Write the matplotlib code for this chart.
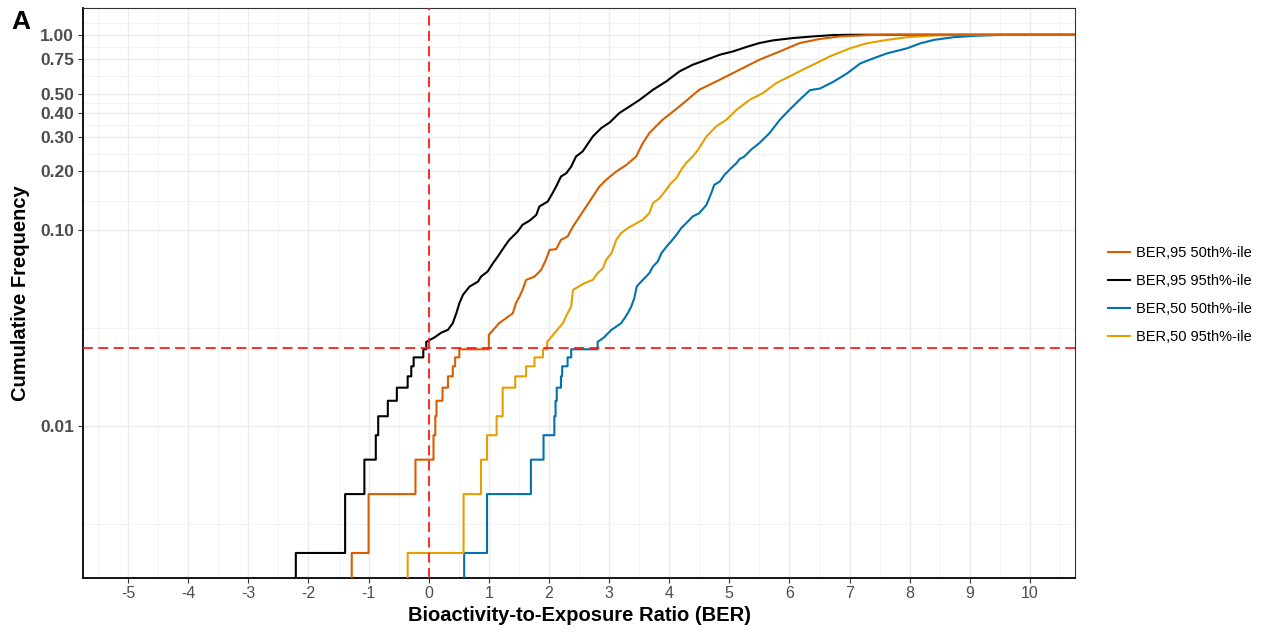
import matplotlib
matplotlib.use("Agg")
import matplotlib.pyplot as plt
from matplotlib.lines import Line2D
import numpy as np


plt.rcParams["font.family"] = ["Liberation Sans", "DejaVu Sans"]

N_CHEM = 446          # chemicals per curve (one ECDF step each)
X_MIN, X_MAX = -5.75, 10.75
Y_MIN, Y_MAX = 0.00167, 1.37

# lowest eleven sorted BER values of each curve (visible single steps)
ber95_p50_low = [-1.28, -1.00, -0.22, 0.08, 0.11, 0.13, 0.23, 0.32, 0.40, 0.44, 0.51]
ber95_p95_low = [-2.21, -1.39, -1.07, -0.88, -0.84, -0.68, -0.53, -0.35, -0.29, -0.25, -0.09]
ber50_p50_low = [0.59, 0.97, 1.70, 1.91, 2.09, 2.11, 2.13, 2.20, 2.22, 2.31, 2.37]
ber50_p95_low = [-0.35, 0.58, 0.87, 0.97, 1.13, 1.23, 1.23, 1.44, 1.62, 1.76, 1.90]

ber95_p50_x = [1.00, 1.17, 1.40, 1.45, 1.51, 1.56, 1.62, 1.76, 1.87, 1.95,
               2.01, 2.12, 2.20, 2.31, 2.40, 2.51, 2.62, 2.73, 2.84, 2.95,
               3.12, 3.29, 3.45, 3.56, 3.67, 3.89, 4.17, 4.50, 4.84, 5.17,
               5.50, 5.84, 6.17, 6.50, 6.83, 7.29, 7.63]
ber95_p50_y = [0.0292, 0.0335, 0.0377, 0.0424, 0.0458, 0.0496, 0.0558, 0.0580, 0.0628, 0.0707,
               0.0795, 0.0801, 0.0894, 0.0930, 0.1046, 0.1177, 0.1323, 0.1489, 0.1675, 0.1812,
               0.1998, 0.2163, 0.2385, 0.2790, 0.3142, 0.3675, 0.4297, 0.5232, 0.5886, 0.6622,
               0.7449, 0.8214, 0.9067, 0.9506, 0.9802, 0.9953, 1.0]

ber95_p95_x = [-0.04, 0.10, 0.21, 0.32, 0.40, 0.46, 0.51, 0.57, 0.68, 0.82,
               0.87, 0.98, 1.07, 1.15, 1.26, 1.34, 1.48, 1.56, 1.68, 1.79,
               1.84, 1.98, 2.06, 2.12, 2.20, 2.29, 2.37, 2.45, 2.56, 2.73,
               2.87, 3.01, 3.17, 3.34, 3.51, 3.73, 3.95, 4.17, 4.39, 4.62,
               4.84, 5.06, 5.28, 5.50, 5.72, 6.06, 6.39, 6.73, 7.12]
ber95_p95_y = [0.0269, 0.0284, 0.0300, 0.0310, 0.0335, 0.0377, 0.0424, 0.0468, 0.0516, 0.0547,
               0.0580, 0.0616, 0.0680, 0.0735, 0.0826, 0.0894, 0.0986, 0.1067, 0.1122, 0.1200,
               0.1323, 0.1404, 0.1550, 0.1675, 0.1884, 0.1961, 0.2119, 0.2385, 0.2530, 0.3019,
               0.3333, 0.3560, 0.3976, 0.4297, 0.4650, 0.5232, 0.5769, 0.6491, 0.7022, 0.7449,
               0.7901, 0.8214, 0.8650, 0.9067, 0.9352, 0.9619, 0.9802, 0.9965, 1.0]

ber50_p50_x = [2.81, 2.92, 2.95, 3.04, 3.20, 3.26, 3.31, 3.37, 3.42, 3.46,
               3.51, 3.67, 3.73, 3.81, 3.87, 3.98, 4.03, 4.12, 4.20, 4.31,
               4.39, 4.50, 4.62, 4.70, 4.75, 4.84, 4.92, 5.03, 5.12, 5.17,
               5.25, 5.36, 5.50, 5.67, 5.84, 6.00, 6.17, 6.34, 6.51, 6.73,
               6.96, 7.18, 7.40, 7.63, 7.96, 8.18, 8.41, 8.74, 9.08, 9.52, 9.83]
ber50_p50_y = [0.0269, 0.0284, 0.0291, 0.0310, 0.0335, 0.0356, 0.0377, 0.0408, 0.0450, 0.0516,
               0.0537, 0.0604, 0.0653, 0.0693, 0.0764, 0.0843, 0.0876, 0.0948, 0.1026, 0.1109,
               0.1177, 0.1224, 0.1350, 0.1550, 0.1709, 0.1776, 0.1922, 0.2080, 0.2207, 0.2313,
               0.2385, 0.2581, 0.2793, 0.3142, 0.3675, 0.4134, 0.4650, 0.5207, 0.5312, 0.5749,
               0.6347, 0.7140, 0.7582, 0.8042, 0.8528, 0.9046, 0.9417, 0.9722, 0.9873, 0.9988, 1.0]

ber50_p95_x = [1.97, 2.23, 2.31, 2.37, 2.40, 2.59, 2.73, 2.81, 2.90, 2.95,
               3.04, 3.12, 3.20, 3.31, 3.56, 3.67, 3.73, 3.84, 3.95, 4.03,
               4.12, 4.20, 4.28, 4.39, 4.48, 4.62, 4.78, 4.95, 5.12, 5.34,
               5.56, 5.78, 6.00, 6.22, 6.45, 6.67, 7.01, 7.29, 7.63, 7.96,
               8.41, 8.85, 9.25]
ber50_p95_y = [0.0269, 0.0335, 0.0377, 0.0408, 0.0496, 0.0537, 0.0558, 0.0604, 0.0641, 0.0707,
               0.0764, 0.0894, 0.0968, 0.1026, 0.1132, 0.1224, 0.1377, 0.1461, 0.1612, 0.1743,
               0.1849, 0.2039, 0.2207, 0.2385, 0.2581, 0.3019, 0.3396, 0.3675, 0.4134, 0.4650,
               0.5032, 0.5660, 0.6119, 0.6622, 0.7165, 0.7745, 0.8528, 0.9046, 0.9417, 0.9722,
               0.9918, 0.9988, 1.0]

labels = ["BER,95 50th%-ile", "BER,95 95th%-ile", "BER,50 50th%-ile", "BER,50 95th%-ile"]
colors = ["#D55E00", "#000000", "#0072B2", "#E69F00"]

y_ticks = [0.01, 0.10, 0.20, 0.30, 0.40, 0.50, 0.75, 1.00]
y_minor = [0.00316, 0.0316, 0.1414, 0.2449, 0.3464, 0.4472, 0.6124, 0.866, 1.155]
x_ticks = list(range(-5, 11))
x_minor = [v + 0.5 for v in range(-6, 11)]

cutoff_ber = 0
cutoff_freq = 0.025


def ecdf_line(low, up_x, up_y):
    # single steps for the first chemicals, then the dense part as a line
    x, y = [low[0]], [0.0]
    level = 0.0
    for i, v in enumerate(low):
        level = (i + 1) / N_CHEM
        x += [v, v]
        y += [y[-1], level]
    x += [up_x[0], up_x[0]] + list(up_x[1:]) + [X_MAX]
    y += [level, up_y[0]] + list(up_y[1:]) + [1.0]
    return x, y


curves = [
    (ber95_p50_low, ber95_p50_x, ber95_p50_y),
    (ber95_p95_low, ber95_p95_x, ber95_p95_y),
    (ber50_p50_low, ber50_p50_x, ber50_p50_y),
    (ber50_p95_low, ber50_p95_x, ber50_p95_y),
]

fig = plt.figure(figsize=(12.68, 6.33), dpi=100)
ax = fig.add_axes([83 / 1268, 1 - 578 / 633, (1075 - 83) / 1268, (578 - 8) / 633])
ax.set_yscale("log", nonpositive="clip")

# draw order: black, blue, yellow, orange on top
for i in [1, 2, 3, 0]:
    x, y = ecdf_line(*curves[i])
    ax.plot(x, y, color=colors[i], lw=1.5, zorder=3)

ax.axvline(cutoff_ber, color="#FF1A1A", lw=1.3, ls=(0, (5.5, 3)), zorder=4)
ax.axhline(cutoff_freq, color="#FF1A1A", lw=1.3, ls=(0, (5.5, 3)), zorder=4)

ax.set_xlim(X_MIN, X_MAX)
ax.set_ylim(Y_MIN, Y_MAX)

ax.set_xticks(x_ticks)
ax.set_xticklabels([str(v) for v in x_ticks])
ax.set_xticks(x_minor, minor=True)
ax.set_yticks(y_ticks)
ax.set_yticklabels(["%.2f" % v for v in y_ticks])
ax.set_yticks(y_minor, minor=True)
ax.yaxis.set_minor_formatter(plt.NullFormatter())

ax.grid(which="major", color="#EBEBEB", lw=1.0, zorder=0)
ax.grid(which="minor", color="#F3F3F3", lw=0.7, zorder=0)
ax.set_axisbelow(True)

ax.tick_params(which="minor", length=0)
ax.tick_params(which="major", length=3.5, width=0.8, color="#333333")
ax.tick_params(axis="x", labelsize=11.5, labelcolor="#4D4D4D", pad=2)
ax.tick_params(axis="y", labelsize=12.5, labelcolor="#4D4D4D", pad=3)
for t in ax.get_yticklabels():
    t.set_fontweight("bold")

for side in ["left", "bottom"]:
    ax.spines[side].set_color("black")
    ax.spines[side].set_linewidth(1.3)
for side in ["top", "right"]:
    ax.spines[side].set_color("#333333")
    ax.spines[side].set_linewidth(0.8)

ax.set_xlabel("Bioactivity-to-Exposure Ratio (BER)", fontsize=14.5, fontweight="bold", labelpad=4)
ax.set_ylabel("Cumulative Frequency", fontsize=14.5, fontweight="bold", labelpad=7)

fig.text(0.009, 0.965, "A", fontsize=19, fontweight="bold", va="center", ha="left")

handles = [Line2D([], [], color=c, lw=1.5) for c in colors]
fig.legend(handles, labels, loc="center left", bbox_to_anchor=(1102 / 1268, 1 - 295 / 633),
           frameon=False, fontsize=10.5, handlelength=1.5, handletextpad=0.4,
           labelspacing=0.95, borderaxespad=0)

fig.savefig("out.png", dpi=100)
